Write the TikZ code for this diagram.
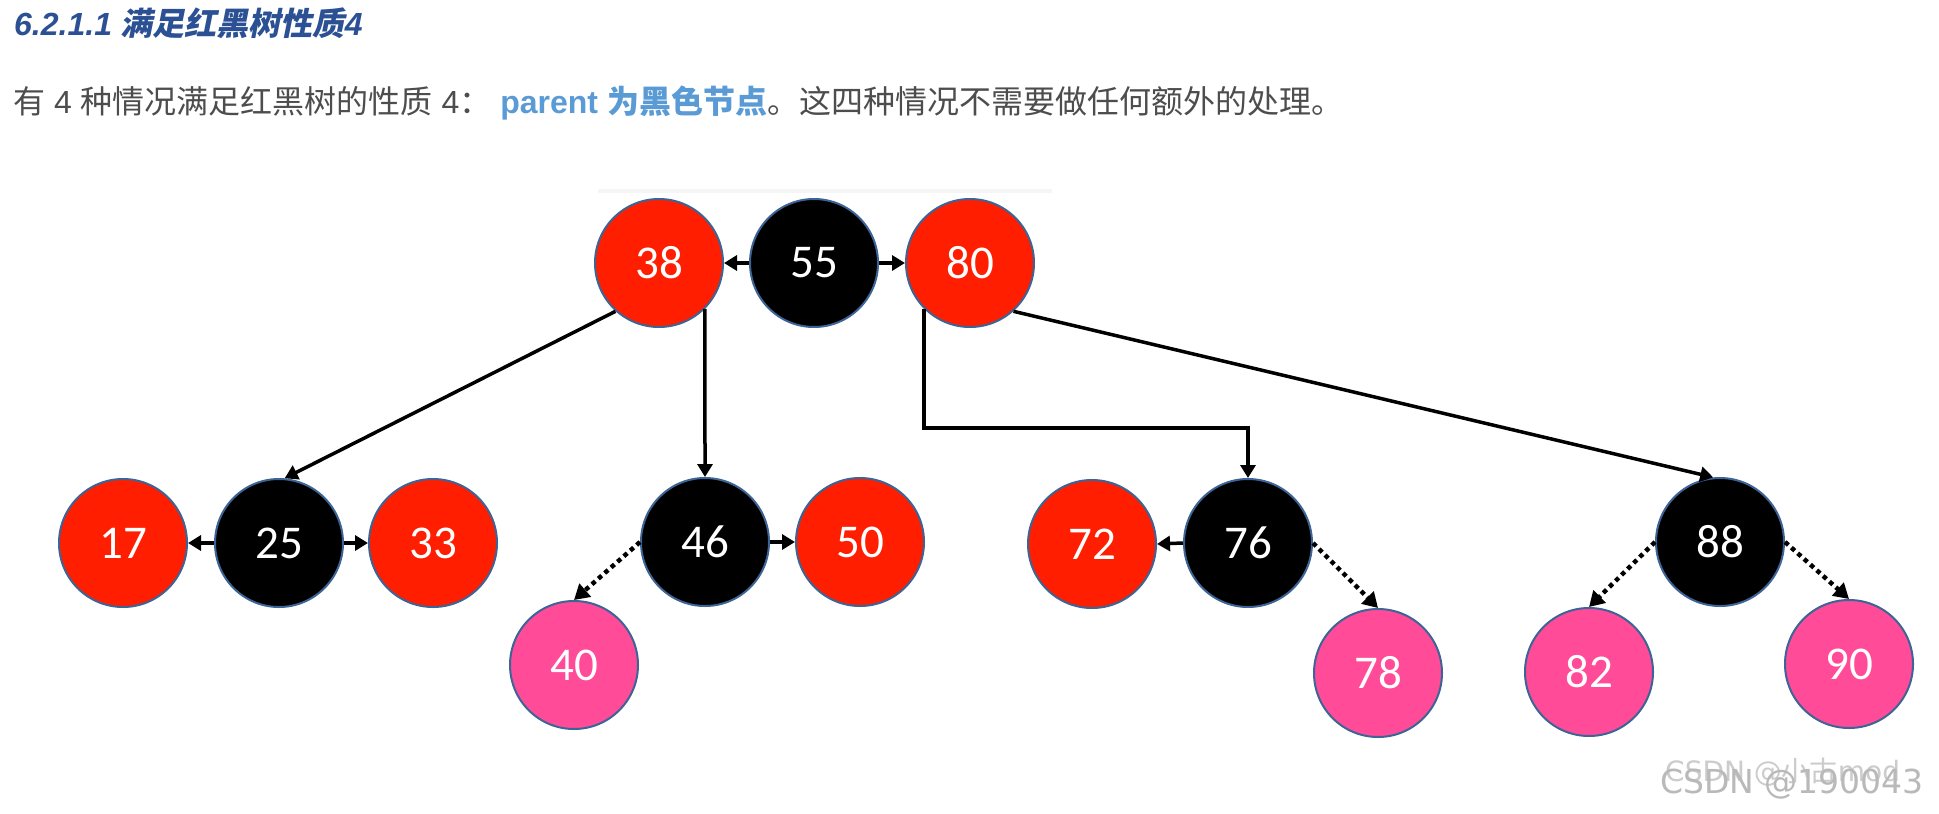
\documentclass[tikz,border=0pt]{standalone}
\usepackage{fontspec}
\setmainfont{Liberation Sans}
\newfontfamily\cjk{Noto Sans CJK SC}
\newfontfamily\cjkslant{Noto Sans CJK SC}[FakeSlant=0.2]
\newfontfamily\numfont{Carlito}
\newfontfamily\wmfont{DejaVu Sans}
\usetikzlibrary{arrows.meta}
\definecolor{rbred}{RGB}{255,30,0}
\definecolor{rbpink}{RGB}{255,75,152}
\definecolor{rbedge}{RGB}{60,100,150}
\definecolor{titleblue}{RGB}{43,80,148}
\definecolor{linkblue}{RGB}{90,155,214}
\definecolor{bodygray}{RGB}{77,77,77}
\begin{document}
\begin{tikzpicture}[x=1pt,y=-1pt,
  rb/.style={circle, minimum size=128pt, inner sep=0pt, draw=rbedge, line width=2pt, text=white, font=\numfont\fontsize{47}{47}\selectfont},
  redn/.style={rb, fill=rbred},
  blackn/.style={rb, fill=black},
  pinkn/.style={rb, fill=rbpink},
  arr/.style={line width=3.5pt, -{Triangle[length=13pt,width=15pt]}},
  darr/.style={line width=4.5pt, dash pattern=on 4.5pt off 4pt, -{Triangle[length=15pt,width=17pt]}},
  txt/.style={anchor=base west, inner sep=0pt}
]
\fill[white] (0,0) rectangle (1939,814);
\useasboundingbox (0,0) rectangle (1939,814);

% texts
\node[txt, text=titleblue, font=\fontsize{32}{36}\selectfont\bfseries\itshape] (title) at (14,35) {6.2.1.1 {\cjkslant 满足红黑树性质}4};
\node[txt, text=bodygray, font=\fontsize{32}{36}\selectfont] (line2) at (13,113) {{\cjk 有} 4 {\cjk 种情况满足红黑树的性质} 4{\cjk ：} \textcolor{linkblue}{\bfseries parent {\cjk 为黑色节点}}{\cjk 。这四种情况不需要做任何额外的处理。}};

% faint frame edge
\draw[line width=4pt, black!4] (598,191) -- (1052,191);

% nodes
\node[redn]   (n38) at (659,263) {38};
\node[blackn] (n55) at (814,263) {55};
\node[redn]   (n80) at (970,263) {80};
\node[redn]   (n17) at (123,543) {17};
\node[blackn] (n25) at (279,543) {25};
\node[redn]   (n33) at (433,543) {33};
\node[blackn] (n46) at (705,542) {46};
\node[redn]   (n50) at (860,542) {50};
\node[pinkn]  (n40) at (574,665) {40};
\node[redn]   (n72) at (1092,544) {72};
\node[blackn] (n76) at (1248,543) {76};
\node[pinkn]  (n78) at (1378,673) {78};
\node[blackn] (n88) at (1720,542) {88};
\node[pinkn]  (n82) at (1589,672) {82};
\node[pinkn]  (n90) at (1849,664) {90};

% sibling arrows
\draw[arr] (n55.west) -- (n38.east);
\draw[arr] (n55.east) -- (n80.west);
\draw[arr] (n25.west) -- (n17.east);
\draw[arr] (n25.east) -- (n33.west);
\draw[arr] (n46.east) -- (n50.west);
\draw[arr] (n76.west) -- (n72.east);

% child links
\draw[arr] (n38.228) -- (n25.85);
\draw[arr] (n38.-45) -- (n46.north);
\coordinate (j80) at (1248,428);
\draw[arr] (n80.-135) |- (j80) -- (n76.north);
\draw[arr] (n80.-48) -- (n88.96);

% dotted links
\draw[darr] (n46.west) -- (n40.north);
\draw[darr] (n76.east) -- (n78.north);
\draw[darr] (n88.west) -- (n82.north);
\draw[darr] (n88.east) -- (n90.north);

% watermark
\node[txt, text=gray!40, font=\wmfont\fontsize{28}{28}\selectfont] (wm1) at (1665,781) {CSDN @{\cjk 小古}mod};
\node[txt, text=gray!55, font=\wmfont\fontsize{33}{33}\selectfont] (wm2) at (1660,793) {CSDN @190043};
\end{tikzpicture}
\end{document}
